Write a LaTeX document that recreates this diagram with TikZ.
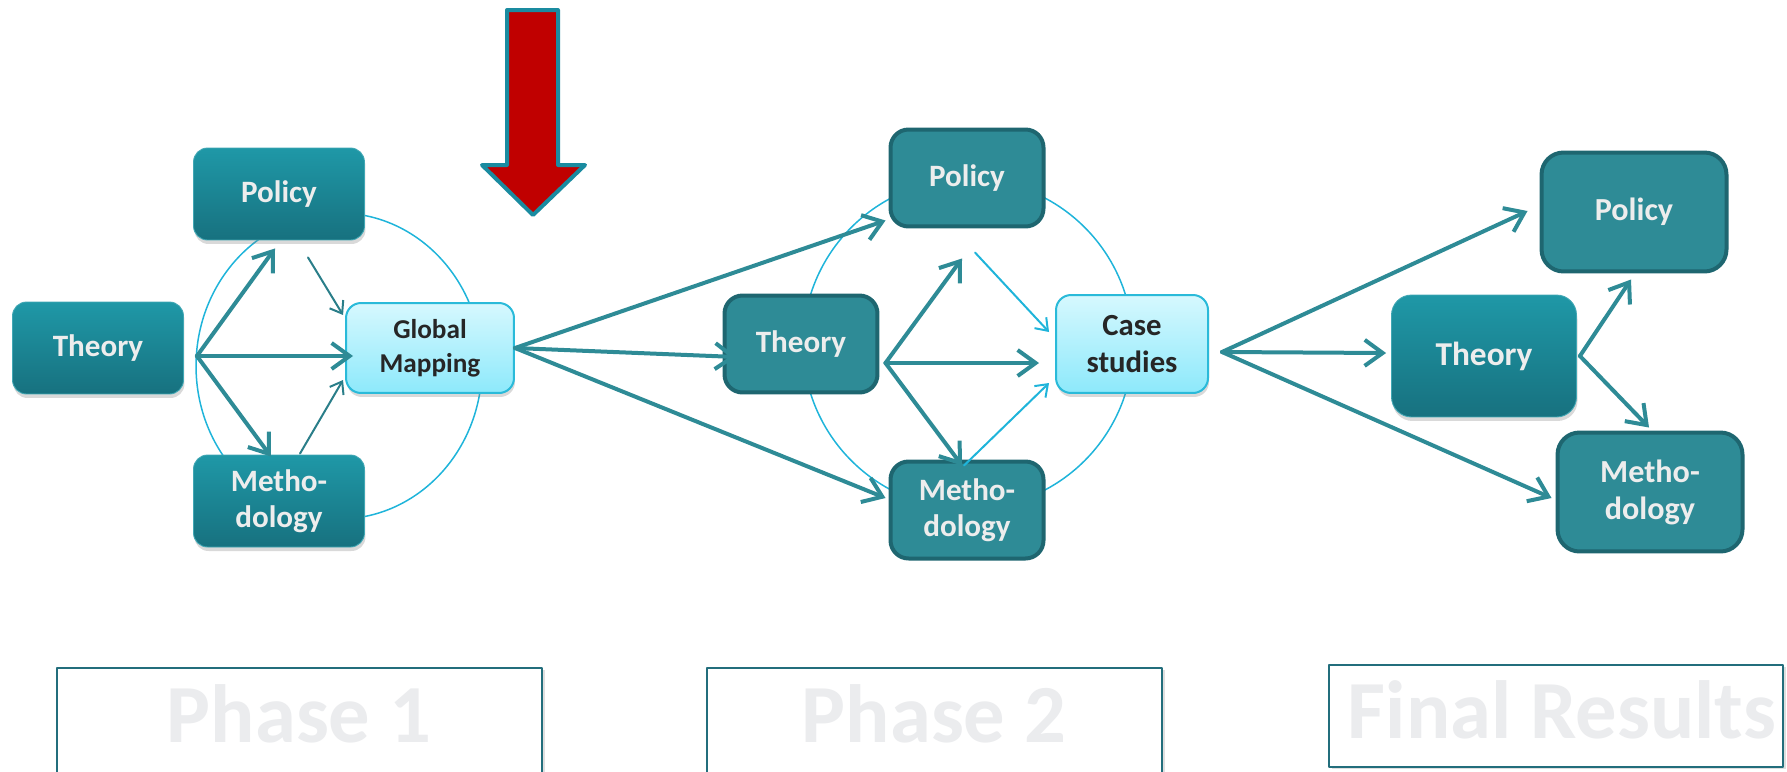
\documentclass[tikz,border=0pt]{standalone}
\usepackage{fontspec}
\setmainfont{Carlito}
\usepackage{tikz}
\usetikzlibrary{arrows.meta, calc, shadows}
\definecolor{tealArrow}{HTML}{2E8B96}
\definecolor{tealDark}{HTML}{1E6670}
\definecolor{tealTop}{HTML}{1F98A7}
\definecolor{tealBot}{HTML}{17717F}
\definecolor{thinTeal}{HTML}{2A7E89}
\definecolor{cyanLine}{HTML}{1FB4DA}
\definecolor{lightTop}{HTML}{D6F8FE}
\definecolor{lightBot}{HTML}{8DE9FB}
\definecolor{lightEdge}{HTML}{2ABAD9}
\definecolor{darkText}{HTML}{262626}
\definecolor{boxText}{HTML}{EDEDED}
\definecolor{downRed}{HTML}{C00000}
\definecolor{downEdge}{HTML}{1A8BA0}
\definecolor{phaseEdge}{HTML}{236E7C}
\definecolor{phaseGray}{HTML}{EBECEE}

\begin{document}
\begin{tikzpicture}[x=0.02cm, y=-0.02cm, line cap=round, line join=round,
  gradbox/.style={rounded corners=0.28cm, top color=tealTop, bottom color=tealBot,
    draw=tealTop!85!white, line width=0.5pt, text=boxText, align=center,
    font=\bfseries\fontsize{17.7}{20.5}\selectfont,
    minimum width=3.42cm, minimum height=1.84cm,
    drop shadow={opacity=0.3, shadow xshift=0.02cm, shadow yshift=-0.08cm}},
  flatbox/.style={rounded corners=0.36cm, fill=tealArrow, draw=tealDark,
    line width=0.08cm, text=boxText, align=center,
    font=\bfseries\fontsize{17.7}{20.5}\selectfont,
    minimum width=3.06cm, minimum height=1.94cm},
  lightbox/.style={rounded corners=0.3cm, top color=lightTop, bottom color=lightBot,
    draw=lightEdge, line width=0.04cm, text=darkText, align=center,
    drop shadow={opacity=0.3, shadow xshift=0.02cm, shadow yshift=-0.08cm}},
  bigarrow/.style={draw=tealArrow, line width=0.08cm,
    -{Straight Barb[length=0.36cm, width=0.52cm]}},
  thinarrow/.style={line width=0.04cm, -{Straight Barb[length=0.22cm, width=0.32cm]}},
  ringline/.style={draw=cyanLine, line width=0.03cm},
  phasebox/.style={draw=phaseEdge, line width=0.03cm, fill=white,
    drop shadow={opacity=0.25, shadow xshift=0.05cm, shadow yshift=-0.04cm}},
  phasetext/.style={text=phaseGray, font=\bfseries\fontsize{47}{50}\selectfont,
    anchor=base, inner sep=0pt}]
  \useasboundingbox (0,0) rectangle (1787,771);

  % rings behind the boxes
  \draw[ringline] (339,366) ellipse [x radius=2.86cm, y radius=3.06cm];
  \draw[ringline] (968,344) circle [radius=3.3cm];

  % phase 1
  \node[gradbox] (theoryA) at (98,348) {Theory};
  \node[gradbox] (policyA) at (279,194) {Policy};
  \node[gradbox] (methodA) at (279,501) {Metho-\\dology};
  \node[lightbox, font=\bfseries\fontsize{15.5}{19.5}\selectfont,
    minimum width=3.36cm, minimum height=1.8cm] (mapA) at (430,348) {Global\\Mapping};

  % phase 2
  \node[flatbox] (policyB) at (967,178) {Policy};
  \node[flatbox] (theoryB) at (801,344) {Theory};
  \node[flatbox] (methodB) at (967,510) {Metho-\\dology};
  \node[lightbox, font=\bfseries\fontsize{17.5}{21}\selectfont,
    minimum width=3.04cm, minimum height=1.96cm] (caseB) at (1132,344) {Case\\studies};

  % final results
  \node[flatbox, minimum width=3.7cm, minimum height=2.38cm, rounded corners=0.44cm,
    font=\bfseries\fontsize{18.3}{21}\selectfont] (policyC) at (1634,212) {Policy};
  \node[gradbox, minimum width=3.7cm, minimum height=2.44cm, rounded corners=0.4cm,
    font=\bfseries\fontsize{19}{22}\selectfont] (theoryC) at (1484,356) {Theory};
  \node[flatbox, minimum width=3.7cm, minimum height=2.38cm, rounded corners=0.44cm,
    font=\bfseries\fontsize{18.3}{21}\selectfont] (methodC) at (1650,492) {Metho-\\dology};

  \coordinate (hubA) at ($(theoryA.east)+(13,8)$);
  \coordinate (hubB) at ($(theoryB.east)+(6,19)$);
  \coordinate (hubC) at ($(caseB.east)+(13,8)$);
  \coordinate (hubD) at ($(theoryC.east)+(3,0)$);

  % phase 1 arrows
  \draw[bigarrow] (hubA) -- ($(policyA.south)+(-4,8)$);
  \draw[bigarrow] (hubA) -- ($(hubA -| mapA.west)+(8,0)$);
  \draw[bigarrow] (hubA) -- ($(methodA.north)+(-8,2)$);
  \draw[thinarrow, draw=thinTeal] ($(policyA.south)+(29,17)$) -- ($(mapA.west)+(-2,-33)$);
  \draw[thinarrow, draw=thinTeal] ($(methodA.north)+(21,-1)$) -- ($(mapA.west)+(-2,32)$);

  % phase 2 arrows
  \draw[bigarrow] (mapA.east) -- ($(policyB.south west)+(-3,-8)$);
  \draw[bigarrow] (mapA.east) -- ($(theoryB.west)+(14,13)$);
  \draw[bigarrow] (mapA.east) -- ($(methodB.west)+(-3,-12)$);
  \draw[bigarrow] (hubB) -- ($(policyB.south)+(-5,30)$);
  \draw[bigarrow] (hubB) -- ($(hubB -| caseB.west)+(-16,0)$);
  \draw[bigarrow] (hubB) -- ($(methodB.north)+(-5,6)$);
  \draw[thinarrow, draw=cyanLine] ($(policyB.south)+(8,24)$) -- ($(caseB.west)+(-6,-12)$);
  \draw[thinarrow, draw=cyanLine] ($(methodB.north)+(-3,6)$) -- ($(caseB.west)+(-6,39)$);

  % final arrows
  \draw[bigarrow] (hubC) -- ($(policyC.west)+(-12,-1)$);
  \draw[bigarrow] (hubC) -- ($(theoryC.west)+(-5,-3)$);
  \draw[bigarrow] (hubC) -- ($(methodC.west)+(-4,6)$);
  \draw[bigarrow] (hubD) -- ($(policyC.south)+(-3,6)$);
  \draw[bigarrow] (hubD) -- ($(methodC.north)+(-1,-3)$);

  % red marker
  \filldraw[fill=downRed, draw=downEdge, line width=0.08cm]
    (507,10) -- (558,10) -- (558,165) -- (585,165) -- (533,215) -- (482,165) -- (507,165) -- cycle;

  % phase labels
  \draw[phasebox] (57,668) rectangle (542,780);
  \node[phasetext] (phaseA) at (299,742) {Phase 1};
  \draw[phasebox] (707,668) rectangle (1162,780);
  \node[phasetext] (phaseB) at (934,742) {Phase 2};
  \draw[phasebox] (1329,665) rectangle (1783,767);
  \node[phasetext] (phaseC) at (1562,738) {Final Results};
\end{tikzpicture}
\end{document}
